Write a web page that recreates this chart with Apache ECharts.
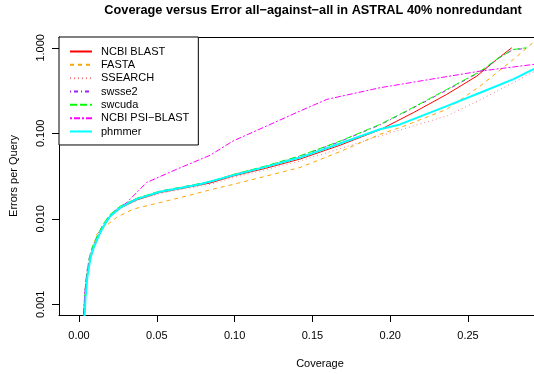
<!DOCTYPE html>
<html>
<head>
<meta charset="utf-8">
<script src="https://cdn.jsdelivr.net/npm/echarts@6/dist/echarts.min.js"></script>
<style>
  html, body { margin: 0; padding: 0; background: #fff; }
  #chart { width: 534px; height: 374px; }
</style>
</head>
<body>
<div id="chart"></div>
<script>
// coverage / errors-per-query pairs
var ncbiBlast = [[0.0030,0.0005],[0.0040,0.0012],[0.0052,0.0021],[0.0072,0.0035],[0.0095,0.0047],[0.0128,0.0064],[0.0158,0.0081],[0.0200,0.0106],[0.0265,0.0133],[0.0371,0.0166],[0.0521,0.0203],[0.0670,0.0228],[0.0842,0.0262],[0.0996,0.0318],[0.120,0.0390],[0.142,0.0500],[0.1677,0.0725],[0.1934,0.110],[0.2148,0.174],[0.2363,0.285],[0.2556,0.466],[0.2684,0.730],[0.2781,1.0]];
var fasta = [[0.0028,0.0005],[0.0038,0.0012],[0.0050,0.0021],[0.0075,0.0036],[0.0114,0.0066],[0.0150,0.0077],[0.0178,0.0084],[0.0242,0.0104],[0.0349,0.0130],[0.0521,0.0155],[0.0692,0.0185],[0.0842,0.0218],[0.100,0.0255],[0.120,0.0315],[0.142,0.0398],[0.1677,0.061],[0.1934,0.0973],[0.2063,0.1166],[0.2363,0.1906],[0.2577,0.356],[0.2791,0.730],[0.2918,1.15],[0.300,1.45]];
var ssearch = [[0.0028,0.0005],[0.0038,0.0012],[0.0050,0.0021],[0.0072,0.0035],[0.0095,0.0047],[0.0128,0.0064],[0.0158,0.0080],[0.0200,0.0105],[0.0265,0.0132],[0.0371,0.0164],[0.0521,0.0198],[0.0670,0.0222],[0.0842,0.0253],[0.0996,0.0305],[0.120,0.0375],[0.142,0.0475],[0.1677,0.0660],[0.1934,0.093],[0.2148,0.122],[0.2363,0.159],[0.2577,0.245],[0.2789,0.39],[0.2918,0.52],[0.300,0.60]];
var swsse2 = [[0.0027,0.0005],[0.0037,0.0013],[0.0049,0.0023],[0.0070,0.0038],[0.0092,0.0050],[0.0125,0.0067],[0.0156,0.0086],[0.0199,0.0111],[0.0263,0.0139],[0.0371,0.0173],[0.0521,0.0210],[0.0670,0.0236],[0.0842,0.0270],[0.0996,0.0330],[0.120,0.0410],[0.142,0.0540],[0.1677,0.080],[0.1934,0.125],[0.2148,0.198],[0.2363,0.320],[0.2577,0.520],[0.2700,0.76],[0.2789,0.95],[0.2800,0.98],[0.2870,0.98]];
var swcuda = [[0.0027,0.0005],[0.0037,0.0013],[0.0049,0.0023],[0.0070,0.0038],[0.0092,0.0050],[0.0125,0.0068],[0.0156,0.0087],[0.0199,0.0112],[0.0263,0.0140],[0.0371,0.0174],[0.0521,0.0211],[0.0670,0.0237],[0.0842,0.0272],[0.0996,0.0332],[0.120,0.0415],[0.142,0.0545],[0.1677,0.081],[0.1934,0.127],[0.2148,0.201],[0.2363,0.326],[0.2577,0.529],[0.2700,0.77],[0.2789,0.955],[0.2800,1.0],[0.2877,1.0]];
var psiBlast = [[0.0026,0.0005],[0.0028,0.00074],[0.0039,0.0015],[0.0060,0.0028],[0.0092,0.0044],[0.0140,0.0072],[0.0199,0.0108],[0.0307,0.0155],[0.0435,0.0266],[0.0628,0.038],[0.0842,0.0553],[0.099,0.0813],[0.1206,0.1217],[0.142,0.182],[0.1592,0.249],[0.1934,0.341],[0.2256,0.427],[0.2577,0.533],[0.2918,0.638],[0.300,0.66]];
var phmmer = [[0.0032,0.0005],[0.0042,0.0012],[0.0054,0.0021],[0.0074,0.0035],[0.0096,0.0047],[0.0128,0.0064],[0.0158,0.0082],[0.0200,0.0107],[0.0265,0.0135],[0.0371,0.0170],[0.0521,0.0207],[0.0670,0.0232],[0.0778,0.0254],[0.0996,0.0324],[0.120,0.0405],[0.142,0.052],[0.1677,0.076],[0.1934,0.1117],[0.2063,0.127],[0.2363,0.208],[0.2577,0.298],[0.2789,0.427],[0.2918,0.558],[0.300,0.65]];

var names = ["NCBI BLAST", "FASTA", "SSEARCH", "swsse2", "swcuda", "NCBI PSI\u2212BLAST", "phmmer"];
var xTicks = [0, 0.05, 0.10, 0.15, 0.20, 0.25];
var yTicks = [0.001, 0.01, 0.1, 1];

var font = "'Liberation Sans', Arial, Helvetica, sans-serif";
var xMin = -0.01285, xMax = 0.2924;
var yMin = 0.00075, yMax = 1.337;

function mkLine(name, data, color, dash, width) {
    return {
        name: name,
        type: "line",
        data: data,
        symbol: "none",
        clip: true,
        lineStyle: { color: color, width: width || 1, type: dash },
        itemStyle: { color: color }
    };
}

var chart = echarts.init(document.getElementById("chart"), null, { renderer: "canvas" });

var option = {
    animation: false,
    backgroundColor: "#fff",
    textStyle: { fontFamily: font },
    title: {
        text: "Coverage versus Error all\u2212against\u2212all in ASTRAL 40% nonredundant",
        left: 313,
        top: 4,
        padding: 0,
        textAlign: "center",
        textStyle: { fontFamily: font, fontSize: 12.75, fontWeight: "bold", color: "#000" }
    },
    legend: {
        orient: "vertical",
        left: 59,
        top: 37,
        padding: [8, 9, 7, 10],
        itemWidth: 22,
        itemHeight: 13,
        itemGap: 0.33,
        backgroundColor: "#fff",
        borderColor: "#000",
        borderWidth: 1,
        borderRadius: 0,
        itemStyle: { opacity: 0 },
        textStyle: { fontFamily: font, fontSize: 11, color: "#000", lineHeight: 13, padding: [0, 0, 0, 4] },
        data: names
    },
    grid: { left: 59, top: 37, right: 0, bottom: 58 },
    xAxis: [{
        type: "value",
        min: xMin,
        max: xMax,
        name: "Coverage",
        nameLocation: "middle",
        nameGap: 43,
        nameTextStyle: { fontFamily: font, fontSize: 11, color: "#000", padding: [0, 0, 0, 47] },
        axisLine: { show: true, onZero: false, lineStyle: { color: "#000", width: 1 } },
        splitLine: { show: false },
        axisTick: { show: true, length: 7, lineStyle: { color: "#000" }, customValues: xTicks },
        axisLabel: {
            margin: 15, fontSize: 11, color: "#000", fontFamily: font,
            customValues: xTicks,
            formatter: function (v) { return v.toFixed(2); }
        }
    }, {
        // top edge of the plot frame
        type: "value",
        position: "top",
        min: xMin,
        max: xMax,
        axisLine: { show: true, onZero: false, lineStyle: { color: "#000", width: 1 } },
        axisTick: { show: false },
        axisLabel: { show: false },
        splitLine: { show: false }
    }],
    yAxis: {
        type: "log",
        logBase: 10,
        min: yMin,
        max: yMax,
        name: "Errors per Query",
        nameLocation: "middle",
        nameGap: 40,
        nameTextStyle: { fontFamily: font, fontSize: 11, color: "#000" },
        axisLine: { show: true, onZero: false, lineStyle: { color: "#000", width: 1 } },
        splitLine: { show: false },
        axisTick: { show: true, length: 7, lineStyle: { color: "#000" }, customValues: yTicks },
        axisLabel: {
            rotate: 90, margin: 13, fontSize: 11, color: "#000", fontFamily: font,
            customValues: yTicks,
            formatter: function (v) { return Number(v).toFixed(3); }
        }
    },
    series: [
        mkLine(names[0], ncbiBlast, "#FF0000", "solid"),
        mkLine(names[1], fasta, "#FFA500", [4, 4]),
        mkLine(names[2], ssearch, "#F08080", [1, 3]),
        mkLine(names[3], swsse2, "#A020F0", [1, 3, 4, 3]),
        mkLine(names[4], swcuda, "#00FF00", [7, 3]),
        mkLine(names[5], psiBlast, "#FF00FF", [2, 2, 6, 2]),
        mkLine(names[6], phmmer, "#00FFFF", "solid", 2)
    ]
};

chart.setOption(option);
</script>
</body>
</html>
